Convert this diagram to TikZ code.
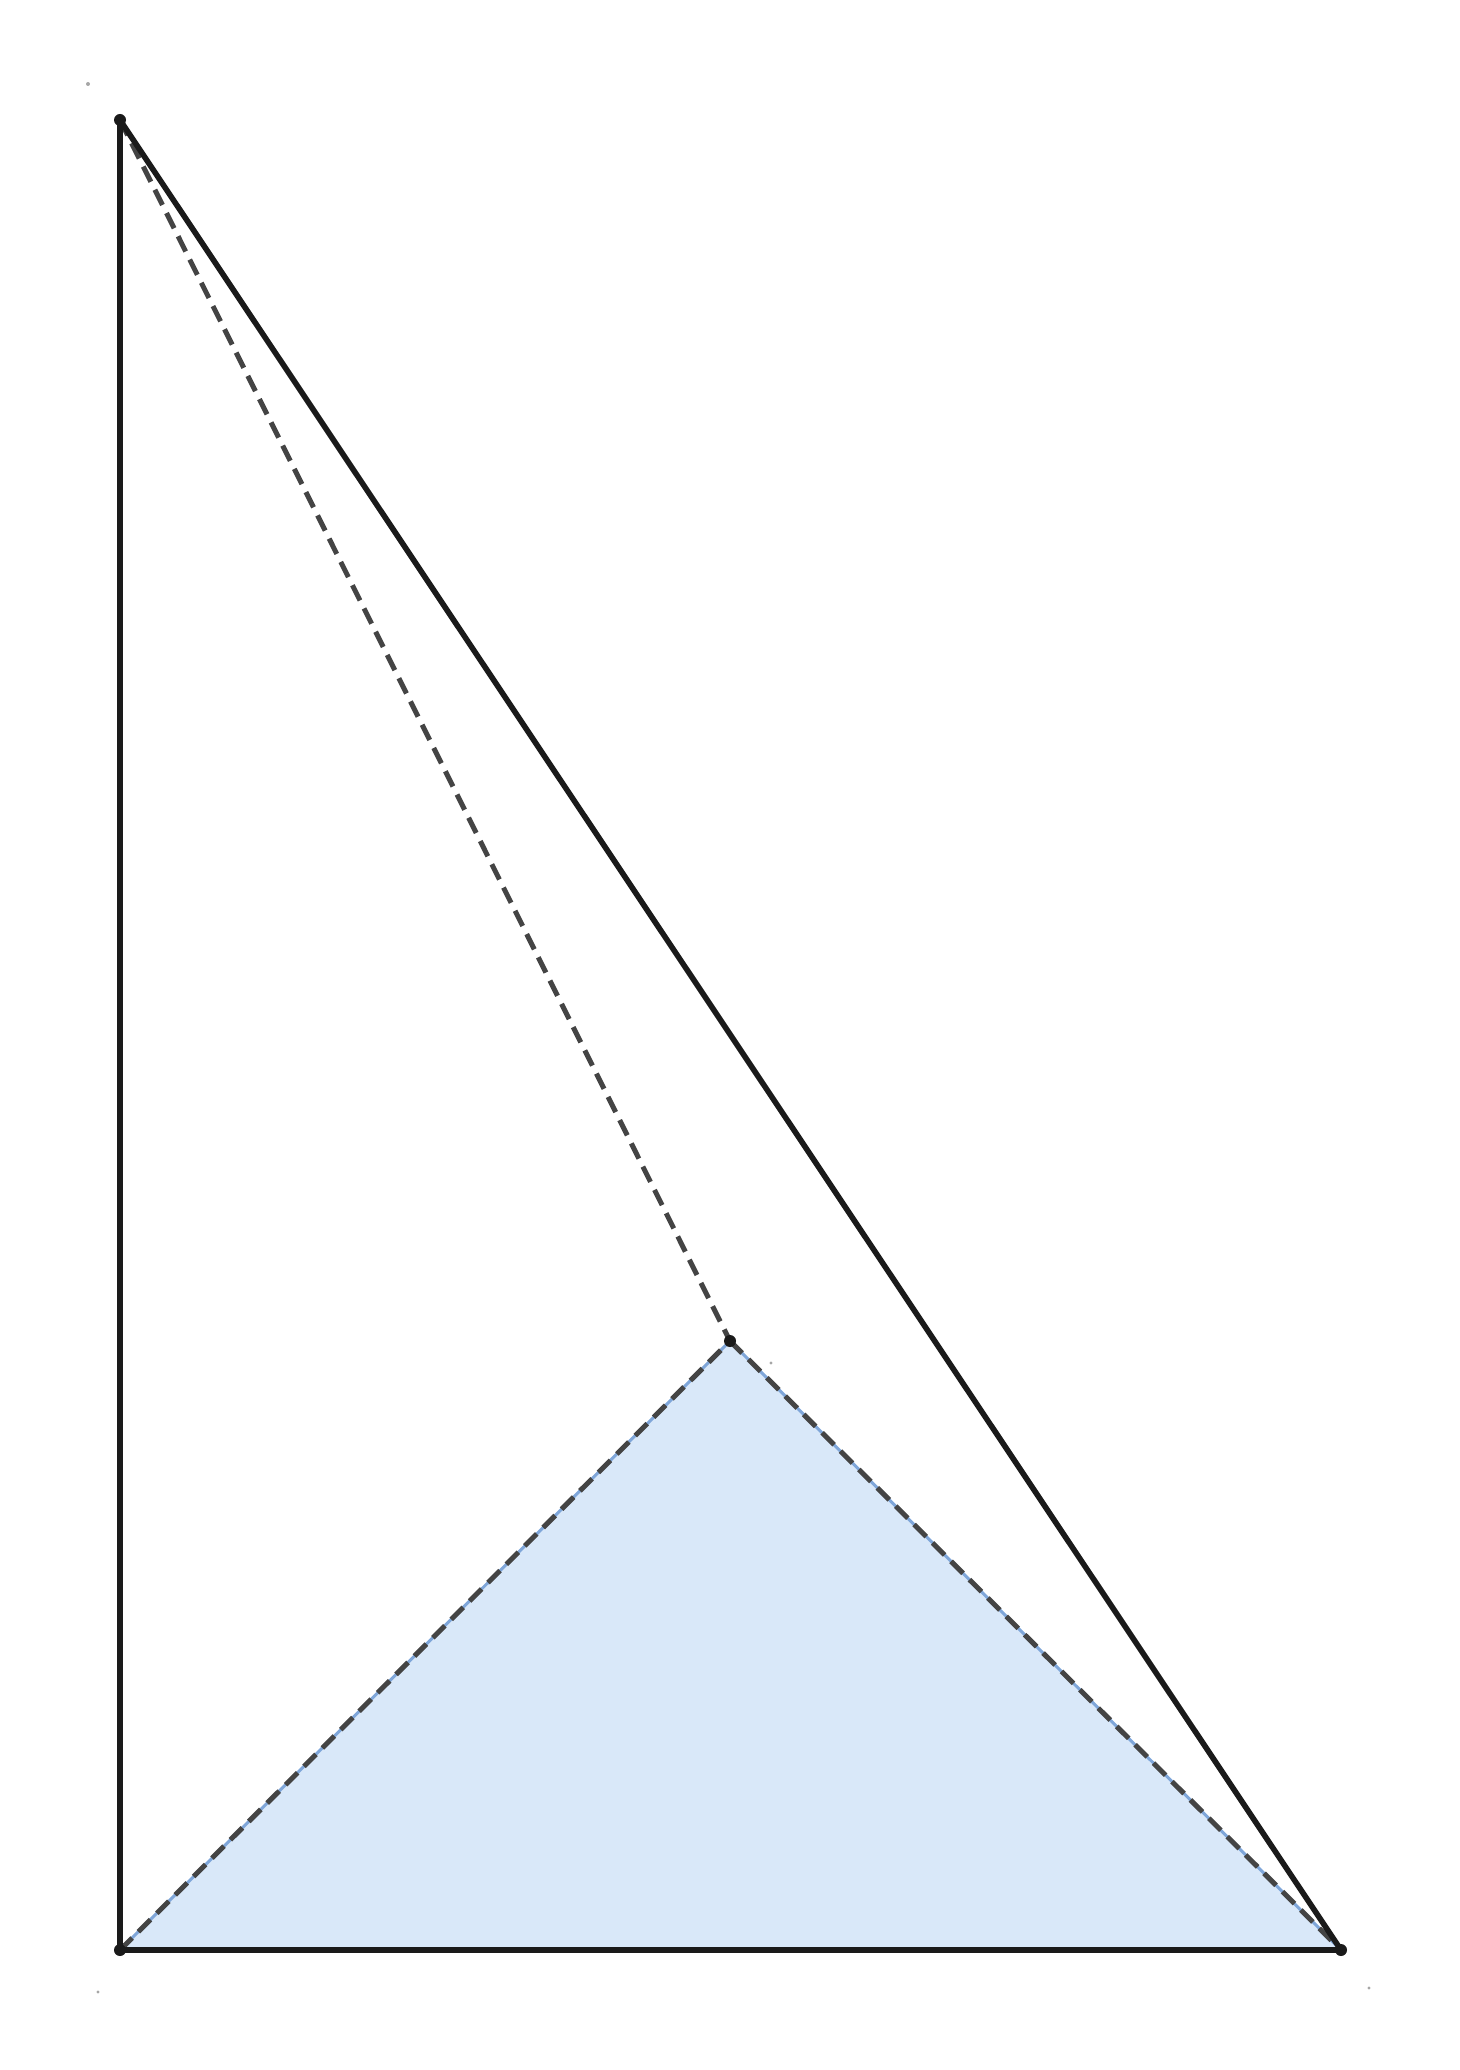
\documentclass[tikz,border=0pt]{standalone}
\definecolor{fillblue}{HTML}{D9E8F9}
\definecolor{edgeblue}{HTML}{7FA6D9}
\definecolor{dashgray}{HTML}{444444}
\definecolor{ptblack}{HTML}{1A1A1A}
\tikzset{
  solidedge/.style={line width=2.8pt, draw=ptblack, line cap=round},
  hiddenedge/.style={line width=2.5pt, draw=dashgray, dash pattern=on 8.5pt off 4.5pt},
  faceedge/.style={line width=1.5pt, draw=edgeblue},
  vertex/.style={fill=ptblack},
  speck/.style={fill=gray!70}
}
\begin{document}
\begin{tikzpicture}[x=0.5pt,y=-0.5pt]
\useasboundingbox (0,0) rectangle (1460,2070);
\coordinate (A) at (120,120);
\coordinate (B) at (120,1950);
\coordinate (C) at (1341,1950);
\coordinate (D) at (730,1341);
% shaded face
\fill[fillblue] (B) -- (D) -- (C) -- cycle;
\draw[faceedge] (B) -- (D) -- (C);
% hidden edges
\draw[hiddenedge] (B) -- (D);
\draw[hiddenedge] (D) -- (C);
\draw[hiddenedge] (A) -- (D);
% visible edges
\draw[solidedge] (A) -- (B);
\draw[solidedge] (B) -- (C);
\draw[solidedge] (A) -- (C);
% vertices
\foreach \p in {A,B,C,D} \fill[vertex] (\p) circle (3pt);
% tiny specks
\fill[speck] (88,84) circle (1pt);
\fill[speck] (98,1992) circle (0.8pt);
\fill[speck] (1369,1988) circle (0.8pt);
\fill[speck] (771,1363) circle (0.8pt);
\end{tikzpicture}
\end{document}
